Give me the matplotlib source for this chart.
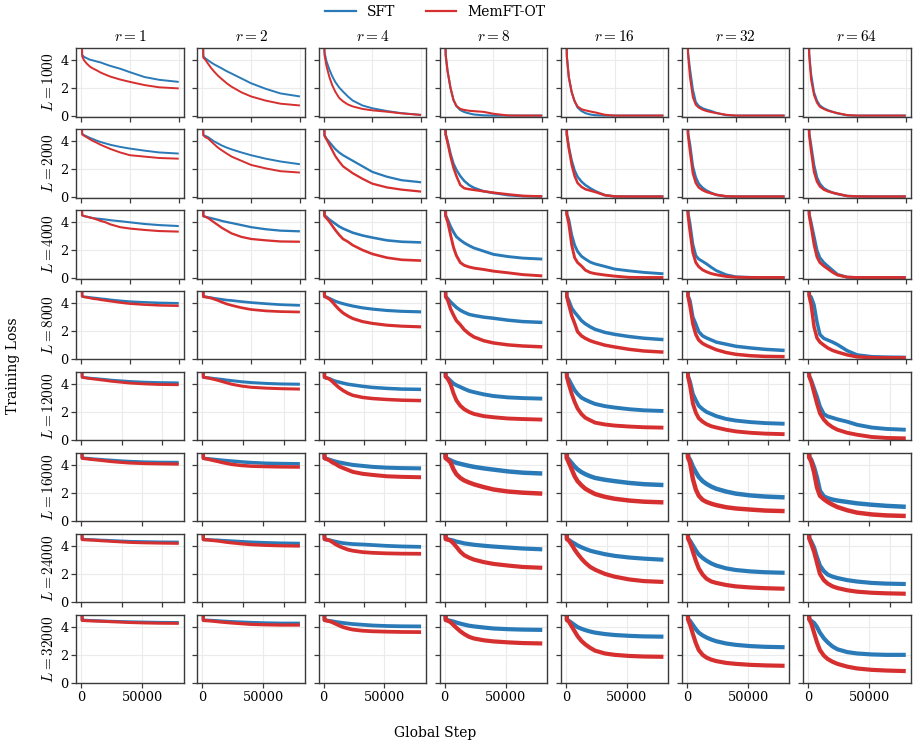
import matplotlib
matplotlib.use("Agg")
import matplotlib.pyplot as plt
from matplotlib.ticker import MultipleLocator
from matplotlib.lines import Line2D
import numpy as np

plt.rcParams["font.family"] = ["DejaVu Serif"]
plt.rcParams["mathtext.fontset"] = "cm"

# ---------------- data ----------------
rank_values = [1, 2, 4, 8, 16, 32, 64]
length_values = [1000, 2000, 4000, 8000, 12000, 16000, 24000, 32000]
series_names = ["SFT", "MemFT-OT"]
# total number of logged steps per row (L)
max_steps = [100000, 100000, 100000, 100000, 120000, 80000, 120000, 80000]
# positions (fraction of the run) at which the losses were read
step_fraction = [0, 0.01, 0.03, 0.06, 0.09, 0.12, 0.16, 0.2, 0.25, 0.3, 0.4, 0.5, 0.65, 0.8, 1.0]
initial_loss = 10.0  # first logged loss, off the top of every panel

sft_L1000 = [
    [4.4, 4.25, 4.15, 4.05, 4.0, 3.92, 3.85, 3.72, 3.6, 3.4, 3.15, 2.8, 2.6, 2.45],
    [4.3, 4.15, 4.0, 3.85, 3.72, 3.57, 3.42, 3.22, 3.05, 2.7, 2.35, 1.95, 1.62, 1.4],
    [4.6, 3.95, 3.35, 2.85, 2.45, 2.05, 1.75, 1.4, 1.1, 0.75, 0.55, 0.35, 0.2, 0.07],
    [4.4, 3.2, 2.0, 1.15, 0.7, 0.42, 0.28, 0.18, 0.1, 0.04, 0.02, 0.02, 0.02, 0.02],
    [4.3, 2.8, 1.7, 1.05, 0.6, 0.35, 0.2, 0.1, 0.05, 0.02, 0.02, 0.02, 0.02, 0.02],
    [4.6, 3.4, 1.9, 1.0, 0.72, 0.55, 0.45, 0.35, 0.22, 0.05, 0.02, 0.02, 0.02, 0.02],
    [4.5, 3.0, 1.7, 1.1, 0.75, 0.55, 0.42, 0.3, 0.18, 0.04, 0.02, 0.02, 0.02, 0.02],
]
memft_L1000 = [
    [4.3, 4.0, 3.75, 3.55, 3.42, 3.28, 3.12, 2.97, 2.83, 2.62, 2.45, 2.22, 2.06, 1.98],
    [4.2, 4.05, 3.75, 3.45, 3.2, 2.9, 2.65, 2.35, 2.1, 1.7, 1.4, 1.1, 0.88, 0.75],
    [4.4, 3.6, 2.8, 2.2, 1.75, 1.3, 1.05, 0.82, 0.68, 0.5, 0.4, 0.3, 0.18, 0.07],
    [4.4, 3.2, 2.0, 1.15, 0.72, 0.5, 0.43, 0.37, 0.34, 0.29, 0.15, 0.03, 0.02, 0.02],
    [4.3, 2.8, 1.7, 1.05, 0.68, 0.48, 0.4, 0.32, 0.25, 0.08, 0.02, 0.02, 0.02, 0.02],
    [4.5, 2.8, 1.35, 0.8, 0.6, 0.45, 0.35, 0.27, 0.2, 0.08, 0.02, 0.02, 0.02, 0.02],
    [4.4, 2.6, 1.5, 0.95, 0.65, 0.5, 0.38, 0.28, 0.2, 0.06, 0.02, 0.02, 0.02, 0.02],
]
sft_L2000 = [
    [4.55, 4.45, 4.35, 4.25, 4.17, 4.05, 3.95, 3.85, 3.75, 3.6, 3.48, 3.33, 3.2, 3.12],
    [4.45, 4.4, 4.3, 4.15, 4.0, 3.85, 3.7, 3.55, 3.42, 3.2, 3.0, 2.75, 2.55, 2.35],
    [4.45, 4.2, 3.95, 3.7, 3.45, 3.2, 3.0, 2.8, 2.6, 2.2, 1.8, 1.45, 1.2, 1.05],
    [4.5, 4.0, 3.1, 2.4, 1.95, 1.5, 1.15, 0.85, 0.65, 0.4, 0.28, 0.12, 0.05, 0.02],
    [4.5, 3.6, 2.6, 1.9, 1.45, 1.1, 0.85, 0.62, 0.42, 0.12, 0.03, 0.02, 0.02, 0.02],
    [4.6, 3.8, 2.2, 1.4, 0.95, 0.65, 0.45, 0.28, 0.14, 0.03, 0.02, 0.02, 0.02, 0.02],
    [4.6, 3.7, 2.3, 1.4, 0.95, 0.62, 0.45, 0.3, 0.2, 0.06, 0.03, 0.02, 0.02, 0.02],
]
memft_L2000 = [
    [4.5, 4.4, 4.28, 4.15, 4.03, 3.9, 3.75, 3.6, 3.45, 3.2, 3.0, 2.9, 2.8, 2.75],
    [4.45, 4.3, 4.2, 4.0, 3.8, 3.55, 3.35, 3.12, 2.9, 2.6, 2.3, 2.05, 1.85, 1.75],
    [4.4, 4.15, 3.75, 3.35, 2.95, 2.55, 2.2, 1.95, 1.7, 1.3, 0.95, 0.68, 0.52, 0.38],
    [4.5, 3.9, 2.9, 2.1, 1.5, 0.85, 0.62, 0.55, 0.5, 0.4, 0.3, 0.18, 0.07, 0.03],
    [4.5, 3.5, 2.3, 1.5, 1.0, 0.72, 0.55, 0.45, 0.35, 0.12, 0.03, 0.02, 0.02, 0.02],
    [4.5, 3.3, 1.7, 1.0, 0.68, 0.48, 0.35, 0.25, 0.15, 0.04, 0.02, 0.02, 0.02, 0.02],
    [4.5, 3.3, 1.8, 1.1, 0.75, 0.52, 0.4, 0.3, 0.22, 0.06, 0.03, 0.02, 0.02, 0.02],
]
sft_L4000 = [
    [4.5, 4.45, 4.4, 4.35, 4.3, 4.27, 4.24, 4.2, 4.15, 4.08, 4.0, 3.88, 3.8, 3.73],
    [4.45, 4.4, 4.35, 4.3, 4.25, 4.18, 4.1, 4.02, 3.95, 3.8, 3.65, 3.5, 3.4, 3.35],
    [4.5, 4.4, 4.2, 4.05, 3.9, 3.7, 3.55, 3.4, 3.25, 3.05, 2.9, 2.7, 2.6, 2.55],
    [4.5, 4.2, 3.7, 3.3, 2.96, 2.72, 2.52, 2.32, 2.15, 1.92, 1.69, 1.53, 1.42, 1.35],
    [4.6, 4.2, 3.08, 2.35, 1.9, 1.55, 1.35, 1.13, 1.0, 0.82, 0.63, 0.5, 0.39, 0.29],
    [4.7, 3.93, 2.4, 1.6, 1.35, 1.18, 1.0, 0.75, 0.52, 0.22, 0.07, 0.03, 0.02, 0.02],
    [4.6, 4.0, 3.0, 2.0, 1.45, 1.1, 0.85, 0.55, 0.25, 0.04, 0.02, 0.02, 0.02, 0.02],
]
memft_L4000 = [
    [4.5, 4.45, 4.4, 4.35, 4.3, 4.2, 4.1, 4.0, 3.85, 3.65, 3.55, 3.45, 3.37, 3.33],
    [4.45, 4.4, 4.3, 4.15, 4.0, 3.8, 3.6, 3.4, 3.2, 2.95, 2.8, 2.7, 2.62, 2.6],
    [4.45, 4.3, 4.05, 3.75, 3.45, 3.1, 2.8, 2.6, 2.35, 2.0, 1.72, 1.45, 1.3, 1.24],
    [4.45, 4.05, 3.1, 2.2, 1.6, 1.1, 0.9, 0.78, 0.7, 0.6, 0.48, 0.36, 0.23, 0.14],
    [4.55, 3.9, 2.36, 1.45, 1.1, 0.85, 0.55, 0.38, 0.3, 0.2, 0.12, 0.03, 0.02, 0.02],
    [4.5, 3.33, 1.8, 1.1, 0.8, 0.57, 0.43, 0.3, 0.22, 0.1, 0.04, 0.02, 0.02, 0.02],
    [4.5, 3.7, 2.4, 1.5, 1.1, 0.85, 0.65, 0.4, 0.2, 0.05, 0.02, 0.02, 0.02, 0.02],
]
sft_L8000 = [
    [4.5, 4.47, 4.45, 4.42, 4.4, 4.37, 4.33, 4.3, 4.25, 4.18, 4.12, 4.07, 4.03, 4.0],
    [4.5, 4.47, 4.43, 4.4, 4.36, 4.32, 4.28, 4.23, 4.2, 4.12, 4.05, 3.97, 3.9, 3.85],
    [4.5, 4.45, 4.35, 4.25, 4.15, 4.05, 3.97, 3.88, 3.8, 3.67, 3.58, 3.48, 3.42, 3.38],
    [4.5, 4.35, 4.1, 3.9, 3.7, 3.5, 3.35, 3.2, 3.12, 3.0, 2.92, 2.78, 2.68, 2.62],
    [4.5, 4.2, 3.65, 3.35, 3.1, 2.75, 2.52, 2.3, 2.12, 1.9, 1.76, 1.6, 1.48, 1.38],
    [4.55, 4.2, 3.0, 2.5, 1.95, 1.65, 1.5, 1.35, 1.2, 1.05, 0.9, 0.78, 0.68, 0.6],
    [4.6, 4.45, 3.88, 2.65, 1.75, 1.47, 1.35, 1.2, 1.02, 0.58, 0.28, 0.15, 0.12, 0.1],
]
memft_L8000 = [
    [4.5, 4.45, 4.42, 4.38, 4.33, 4.3, 4.25, 4.2, 4.15, 4.05, 3.97, 3.9, 3.85, 3.82],
    [4.47, 4.45, 4.42, 4.37, 4.3, 4.2, 4.08, 3.95, 3.85, 3.68, 3.55, 3.45, 3.4, 3.37],
    [4.48, 4.42, 4.3, 4.1, 3.85, 3.55, 3.3, 3.08, 2.9, 2.68, 2.55, 2.42, 2.35, 2.3],
    [4.45, 4.25, 3.6, 3.15, 2.75, 2.45, 2.1, 1.8, 1.57, 1.3, 1.14, 1.0, 0.92, 0.86],
    [4.45, 3.9, 3.1, 2.55, 1.95, 1.65, 1.47, 1.3, 1.18, 0.98, 0.85, 0.68, 0.56, 0.48],
    [4.5, 3.8, 2.5, 1.75, 1.35, 1.1, 0.95, 0.8, 0.65, 0.45, 0.32, 0.22, 0.17, 0.15],
    [4.5, 3.9, 2.3, 1.5, 1.2, 0.98, 0.78, 0.6, 0.48, 0.28, 0.14, 0.08, 0.07, 0.07],
]
sft_L12000 = [
    [4.5, 4.48, 4.46, 4.44, 4.42, 4.4, 4.37, 4.34, 4.3, 4.25, 4.2, 4.15, 4.12, 4.1],
    [4.5, 4.48, 4.46, 4.44, 4.41, 4.38, 4.35, 4.3, 4.26, 4.18, 4.12, 4.06, 4.02, 4.0],
    [4.5, 4.45, 4.4, 4.3, 4.22, 4.15, 4.08, 4.0, 3.95, 3.85, 3.77, 3.7, 3.65, 3.63],
    [4.55, 4.45, 4.25, 4.05, 3.93, 3.8, 3.67, 3.52, 3.43, 3.27, 3.15, 3.05, 3.0, 2.96],
    [4.55, 4.35, 3.95, 3.57, 3.3, 3.03, 2.88, 2.72, 2.58, 2.42, 2.32, 2.2, 2.12, 2.07],
    [4.6, 4.2, 3.3, 2.85, 2.45, 2.2, 2.0, 1.85, 1.7, 1.5, 1.38, 1.27, 1.2, 1.15],
    [4.6, 4.3, 3.7, 3.1, 2.4, 1.85, 1.68, 1.58, 1.47, 1.3, 1.08, 0.88, 0.78, 0.72],
]
memft_L12000 = [
    [4.5, 4.47, 4.44, 4.41, 4.38, 4.35, 4.31, 4.27, 4.22, 4.15, 4.08, 4.02, 3.98, 3.96],
    [4.5, 4.48, 4.45, 4.4, 4.35, 4.28, 4.2, 4.1, 4.0, 3.87, 3.78, 3.72, 3.68, 3.65],
    [4.5, 4.45, 4.38, 4.2, 4.0, 3.75, 3.55, 3.35, 3.2, 3.05, 2.97, 2.9, 2.85, 2.82],
    [4.55, 4.4, 4.0, 3.35, 2.84, 2.45, 2.2, 2.0, 1.86, 1.7, 1.62, 1.53, 1.49, 1.45],
    [4.5, 4.0, 3.3, 2.72, 2.25, 1.85, 1.58, 1.4, 1.23, 1.1, 1.02, 0.95, 0.9, 0.87],
    [4.55, 3.9, 2.6, 1.95, 1.55, 1.3, 1.12, 0.97, 0.88, 0.72, 0.6, 0.5, 0.44, 0.4],
    [4.55, 4.2, 3.4, 2.6, 1.9, 1.45, 1.15, 0.9, 0.72, 0.5, 0.36, 0.2, 0.13, 0.1],
]
sft_L16000 = [
    [4.52, 4.5, 4.49, 4.47, 4.45, 4.43, 4.41, 4.38, 4.36, 4.31, 4.27, 4.23, 4.21, 4.2],
    [4.5, 4.48, 4.46, 4.44, 4.42, 4.39, 4.36, 4.33, 4.3, 4.24, 4.19, 4.14, 4.12, 4.1],
    [4.5, 4.46, 4.4, 4.33, 4.27, 4.2, 4.15, 4.08, 4.02, 3.95, 3.88, 3.82, 3.79, 3.77],
    [4.55, 4.45, 4.35, 4.25, 4.17, 4.1, 4.03, 3.95, 3.88, 3.77, 3.68, 3.55, 3.46, 3.4],
    [4.55, 4.4, 4.15, 3.9, 3.7, 3.5, 3.35, 3.2, 3.08, 2.95, 2.85, 2.72, 2.63, 2.57],
    [4.6, 4.4, 3.9, 3.5, 3.15, 2.85, 2.65, 2.45, 2.3, 2.1, 1.95, 1.82, 1.74, 1.68],
    [4.6, 4.4, 3.85, 3.1, 2.15, 1.75, 1.62, 1.52, 1.45, 1.35, 1.25, 1.15, 1.07, 1.0],
]
memft_L16000 = [
    [4.5, 4.48, 4.46, 4.43, 4.41, 4.38, 4.35, 4.31, 4.27, 4.21, 4.16, 4.12, 4.1, 4.08],
    [4.5, 4.47, 4.43, 4.38, 4.33, 4.27, 4.2, 4.13, 4.06, 3.98, 3.93, 3.9, 3.88, 3.87],
    [4.5, 4.45, 4.35, 4.2, 4.1, 3.92, 3.8, 3.66, 3.52, 3.38, 3.3, 3.2, 3.16, 3.13],
    [4.5, 4.4, 4.2, 3.7, 3.35, 3.08, 2.9, 2.75, 2.62, 2.42, 2.25, 2.1, 2.02, 1.95],
    [4.5, 4.2, 3.7, 3.2, 2.85, 2.55, 2.3, 2.1, 1.92, 1.72, 1.58, 1.45, 1.37, 1.32],
    [4.55, 4.2, 3.0, 2.25, 1.8, 1.5, 1.35, 1.22, 1.12, 0.97, 0.88, 0.8, 0.73, 0.69],
    [4.55, 4.3, 3.5, 2.4, 1.8, 1.55, 1.35, 1.15, 0.98, 0.75, 0.58, 0.45, 0.38, 0.34],
]
sft_L24000 = [
    [4.5, 4.49, 4.48, 4.47, 4.46, 4.45, 4.43, 4.42, 4.4, 4.37, 4.34, 4.32, 4.3, 4.29],
    [4.48, 4.47, 4.46, 4.45, 4.44, 4.43, 4.41, 4.39, 4.37, 4.33, 4.29, 4.25, 4.22, 4.2],
    [4.5, 4.47, 4.43, 4.38, 4.33, 4.27, 4.22, 4.18, 4.15, 4.12, 4.08, 4.02, 3.98, 3.95],
    [4.55, 4.5, 4.45, 4.4, 4.33, 4.27, 4.2, 4.15, 4.1, 4.03, 3.97, 3.9, 3.83, 3.77],
    [4.55, 4.45, 4.3, 4.18, 4.05, 3.92, 3.8, 3.67, 3.58, 3.42, 3.3, 3.18, 3.1, 3.02],
    [4.6, 4.4, 4.05, 3.7, 3.4, 3.15, 2.95, 2.75, 2.6, 2.4, 2.28, 2.18, 2.12, 2.08],
    [4.6, 4.35, 3.9, 3.2, 2.6, 2.2, 1.95, 1.8, 1.7, 1.55, 1.45, 1.35, 1.3, 1.27],
]
memft_L24000 = [
    [4.47, 4.46, 4.45, 4.44, 4.43, 4.41, 4.39, 4.37, 4.35, 4.31, 4.27, 4.24, 4.22, 4.2],
    [4.47, 4.46, 4.45, 4.42, 4.4, 4.37, 4.33, 4.28, 4.24, 4.17, 4.11, 4.06, 4.03, 4.01],
    [4.5, 4.47, 4.42, 4.3, 4.15, 4.0, 3.88, 3.75, 3.67, 3.57, 3.52, 3.48, 3.46, 3.45],
    [4.5, 4.47, 4.4, 4.2, 3.95, 3.6, 3.35, 3.17, 3.03, 2.85, 2.72, 2.6, 2.5, 2.44],
    [4.5, 4.4, 4.1, 3.75, 3.45, 3.1, 2.8, 2.5, 2.3, 2.0, 1.8, 1.6, 1.48, 1.42],
    [4.55, 4.25, 3.6, 2.95, 2.4, 1.95, 1.65, 1.45, 1.35, 1.2, 1.1, 1.02, 0.97, 0.93],
    [4.55, 4.2, 3.6, 2.8, 2.0, 1.55, 1.3, 1.1, 0.98, 0.82, 0.72, 0.64, 0.6, 0.57],
]
sft_L32000 = [
    [4.5, 4.5, 4.49, 4.48, 4.47, 4.46, 4.45, 4.43, 4.42, 4.4, 4.38, 4.36, 4.34, 4.33],
    [4.5, 4.5, 4.49, 4.48, 4.47, 4.45, 4.43, 4.41, 4.39, 4.36, 4.33, 4.3, 4.28, 4.28],
    [4.5, 4.48, 4.45, 4.42, 4.38, 4.34, 4.3, 4.26, 4.22, 4.17, 4.12, 4.08, 4.06, 4.05],
    [4.55, 4.5, 4.45, 4.4, 4.33, 4.25, 4.18, 4.1, 4.05, 3.97, 3.9, 3.85, 3.82, 3.8],
    [4.55, 4.45, 4.3, 4.15, 4.0, 3.88, 3.78, 3.68, 3.6, 3.5, 3.43, 3.37, 3.33, 3.31],
    [4.6, 4.45, 4.15, 3.85, 3.6, 3.4, 3.25, 3.1, 2.98, 2.82, 2.72, 2.63, 2.58, 2.55],
    [4.6, 4.45, 4.3, 4.0, 3.6, 3.2, 2.9, 2.6, 2.4, 2.2, 2.1, 2.03, 2.0, 2.0],
]
memft_L32000 = [
    [4.48, 4.47, 4.46, 4.45, 4.44, 4.43, 4.42, 4.41, 4.39, 4.36, 4.33, 4.3, 4.28, 4.27],
    [4.48, 4.47, 4.46, 4.44, 4.42, 4.39, 4.36, 4.33, 4.3, 4.25, 4.2, 4.17, 4.15, 4.15],
    [4.5, 4.47, 4.42, 4.35, 4.25, 4.12, 4.0, 3.9, 3.82, 3.74, 3.7, 3.67, 3.65, 3.64],
    [4.5, 4.47, 4.35, 4.15, 3.95, 3.7, 3.5, 3.3, 3.18, 3.05, 2.97, 2.9, 2.85, 2.82],
    [4.5, 4.4, 4.05, 3.7, 3.35, 3.0, 2.75, 2.5, 2.3, 2.1, 2.0, 1.92, 1.88, 1.86],
    [4.55, 4.2, 3.5, 2.85, 2.35, 2.0, 1.8, 1.65, 1.55, 1.42, 1.35, 1.28, 1.24, 1.21],
    [4.55, 4.3, 3.6, 2.9, 2.35, 1.95, 1.7, 1.5, 1.35, 1.15, 1.02, 0.92, 0.87, 0.83],
]

sft_rows = [sft_L1000, sft_L2000, sft_L4000, sft_L8000,
            sft_L12000, sft_L16000, sft_L24000, sft_L32000]
memft_rows = [memft_L1000, memft_L2000, memft_L4000, memft_L8000,
              memft_L12000, memft_L16000, memft_L24000, memft_L32000]

# ---------------- style ----------------
BLUE = "#2a7ab8"
RED = "#d62f2f"
SPINE = "#3a3a3a"
# visual thickness of the noisy loss band: grows with L, thinner for small r
row_linewidth = [1.5, 1.8, 2.1, 2.5, 2.8, 3.2, 3.0, 3.0]
col_scale = [0.72, 0.78, 0.9, 1.0, 1.0, 1.0, 1.0]

fig = plt.figure(figsize=(9.18, 7.48), dpi=100)
axes = fig.subplots(len(length_values), len(rank_values))
fig.subplots_adjust(left=0.0831, right=0.992, top=0.9354, bottom=0.0865,
                    wspace=0.129, hspace=0.186)

frac = np.array(step_fraction)
for i, L in enumerate(length_values):
    x = frac * max_steps[i]
    for j, r in enumerate(rank_values):
        lw = max(1.4, row_linewidth[i] * col_scale[j])
        ax = axes[i, j]
        ax.plot(x, [initial_loss] + sft_rows[i][j], color=BLUE, lw=lw,
                solid_joinstyle="round", solid_capstyle="butt")
        ax.plot(x, [initial_loss] + memft_rows[i][j], color=RED, lw=lw,
                solid_joinstyle="round", solid_capstyle="butt")
        ax.set_ylim(-0.05, 4.87)
        ax.set_xlim(-0.05 * max_steps[i], 1.05 * max_steps[i])
        ax.xaxis.set_major_locator(MultipleLocator(50000))
        ax.set_yticks([0, 2, 4])
        ax.grid(True, color="#ebebeb", lw=0.8)
        ax.set_axisbelow(True)
        for sp in ax.spines.values():
            sp.set_color(SPINE)
            sp.set_linewidth(1.0)
        ax.tick_params(direction="out", length=3.5, width=0.9, color=SPINE,
                       labelsize=9.3, pad=2)
        if i < len(length_values) - 1:
            ax.tick_params(labelbottom=False)
        if j > 0:
            ax.tick_params(labelleft=False)
        if i == 0:
            ax.set_title(r"$r = %d$" % r, fontsize=11, pad=5)
        if j == 0:
            ax.set_ylabel(r"$L = %d$" % L, fontsize=11, labelpad=3)

handles = [Line2D([], [], color=BLUE, lw=1.6), Line2D([], [], color=RED, lw=1.6)]
fig.legend(handles, series_names, loc="center", bbox_to_anchor=(0.474, 0.984),
           ncol=2, frameon=False, fontsize=10, handlelength=2.2,
           columnspacing=2.2, handletextpad=0.8)
fig.text(0.474, 0.02, "Global Step", ha="center", va="center", fontsize=10)
fig.text(0.0142, 0.511, "Training Loss", ha="center", va="center",
         rotation=90, fontsize=10)

fig.savefig("out.png", dpi=100)
